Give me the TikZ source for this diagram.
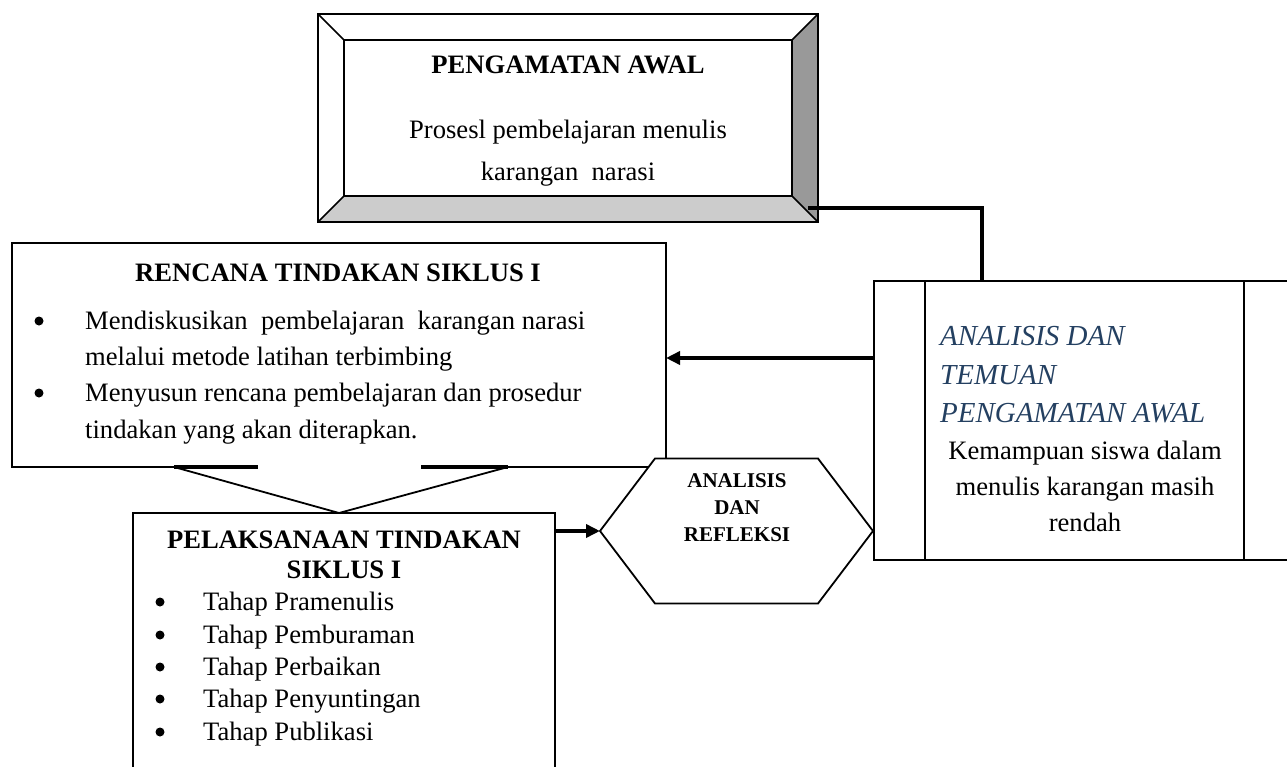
\documentclass[tikz,border=0pt]{standalone}
\usepackage{fontspec}
\setmainfont{Liberation Serif}
\usetikzlibrary{arrows.meta,calc}
\definecolor{headblue}{RGB}{36,64,97}
\definecolor{bevdark}{RGB}{153,153,153}
\definecolor{bevlight}{RGB}{204,204,204}
\begin{document}
\begin{tikzpicture}[x=1pt,y=-1pt,
  txt/.style={anchor=base,inner sep=0pt,font=\fontsize{26.6}{30}\selectfont},
  ltxt/.style={txt,anchor=base west},
  btxt/.style={txt,font=\fontsize{26.6}{30}\selectfont\bfseries},
  itxt/.style={ltxt,font=\fontsize{29}{32}\selectfont\itshape,text=headblue},
  htxt/.style={txt,font=\fontsize{21}{24}\selectfont\bfseries},
  bul/.style={circle,fill=black,inner sep=0pt,minimum size=9pt},
  frame/.style={draw=none,inner sep=0pt,outer sep=0pt},
  boxline/.style={line width=1.8pt},
  conn/.style={line width=3.5pt},
  arr/.style={conn,-{Triangle[length=14pt,width=13pt]}}]
\useasboundingbox (0,0) rectangle (1287,767);
\clip (0,0) rectangle (1287,767);

% ---- PENGAMATAN AWAL (bevel box)
\node[frame,minimum width=500pt,minimum height=208pt] (awal) at (568,118) {};
\node[frame,minimum width=448pt,minimum height=156pt] (awalin) at (568,118) {};
\fill[white] (awal.north west) rectangle (awal.south east);
\fill[bevdark] (awal.north east) -- (awalin.north east) -- (awalin.south east) -- (awal.south east) -- cycle;
\fill[bevlight] (awal.south west) -- (awalin.south west) -- (awalin.south east) -- (awal.south east) -- cycle;
\draw[boxline] (awal.north west) rectangle (awal.south east);
\draw[boxline] (awalin.north west) rectangle (awalin.south east);
\draw[line width=1.5pt] (awal.north west) -- (awalin.north west)
  (awal.north east) -- (awalin.north east)
  (awal.south west) -- (awalin.south west)
  (awal.south east) -- (awalin.south east);
\node[btxt] (awalT) at (568,74) {PENGAMATAN AWAL};
\node[txt] (awalL1) at (568,139) {Prosesl pembelajaran menulis};
\node[txt] (awalL2) at (568,181) {karangan\ \ narasi};

% ---- ANALISIS DAN TEMUAN (right box)
\node[frame,minimum width=430pt,minimum height=279pt,anchor=north west] (temuan) at (874,281) {};
\draw[boxline] (temuan.north west) rectangle (temuan.south east);
\draw[boxline] ($(temuan.north west)+(51,0)$) -- ($(temuan.south west)+(51,0)$);
\draw[boxline] ($(temuan.north west)+(370,0)$) -- ($(temuan.south west)+(370,0)$);
\node[itxt] (temT1) at (940,345) {ANALISIS DAN};
\node[itxt] (temT2) at (940,384) {TEMUAN};
\node[itxt] (temT3) at (940,422) {PENGAMATAN AWAL};
\node[txt] (temL1) at (1085,459) {Kemampuan siswa dalam};
\node[txt] (temL2) at (1085,495) {menulis karangan masih};
\node[txt] (temL3) at (1085,531) {rendah};

% connector awal -> temuan
\coordinate (cstart) at (808,208);
\draw[conn] (cstart) -| ($(temuan.north west)+(108,0)$);

% ---- RENCANA TINDAKAN (callout box)
\node[frame,minimum width=654pt,minimum height=224pt,anchor=north west] (rencana) at (12,243) {};
\coordinate (tip) at (339,513);
\draw[boxline,fill=white] (rencana.north west) -- (rencana.north east) -- (rencana.south east)
  -- ($(rencana.south west)+(496,0)$) -- (tip) -- ($(rencana.south west)+(162,0)$)
  -- (rencana.south west) -- cycle;
\draw[line width=3.5pt] ($(rencana.south west)+(162,0)$) -- ($(rencana.south west)+(246,0)$);
\draw[line width=3.5pt] ($(rencana.south west)+(409,0)$) -- ($(rencana.south west)+(496,0)$);
\node[btxt] (renT) at (338,282) {RENCANA TINDAKAN SIKLUS I};
\node[bul] (renB1) at (39,321) {};
\node[ltxt] (renL1) at (85,329) {Mendiskusikan\ \ pembelajaran\ \ karangan narasi};
\node[ltxt] (renL2) at (85,365) {melalui metode latihan terbimbing};
\node[bul] (renB2) at (39,393) {};
\node[ltxt] (renL3) at (85,401) {Menyusun rencana pembelajaran dan prosedur};
\node[ltxt] (renL4) at (85,438) {tindakan yang akan diterapkan.};

% ---- PELAKSANAAN TINDAKAN
\node[frame,minimum width=422pt,minimum height=300pt,anchor=north west] (pel) at (133,513) {};
\draw[boxline,fill=white] (pel.north west) rectangle (pel.south east);
\node[btxt] (pelT1) at (344,548) {PELAKSANAAN TINDAKAN};
\node[btxt] (pelT2) at (344,578) {SIKLUS I};
\foreach \y/\t [count=\i] in {610/Tahap Pramenulis,643/Tahap Pemburaman,675/Tahap Perbaikan,707/Tahap Penyuntingan,740/Tahap Publikasi}{
  \node[bul] (pelB\i) at (160,\y-8) {};
  \node[ltxt] (pelL\i) at (203,\y) {\t};
}

% ---- ANALISIS DAN REFLEKSI (hexagon)
\node[frame,minimum width=273pt,minimum height=145pt] (hex) at (736.5,531) {};
\draw[boxline,fill=white] (hex.west) -- ($(hex.north west)+(55,0)$) -- ($(hex.north east)+(-55,0)$)
  -- (hex.east) -- ($(hex.south east)+(-55,0)$) -- ($(hex.south west)+(55,0)$) -- cycle;
\node[htxt] (hexL1) at (737,487) {ANALISIS};
\node[htxt] (hexL2) at (737,514) {DAN};
\node[htxt] (hexL3) at (737,541) {REFLEKSI};

% ---- arrows
\draw[arr] (hex.west -| pel.east) -- (hex.west);
\coordinate (tw) at ($(temuan.north west)+(0,77)$);
\draw[arr] (tw) -- (tw -| rencana.east);
\end{tikzpicture}
\end{document}
